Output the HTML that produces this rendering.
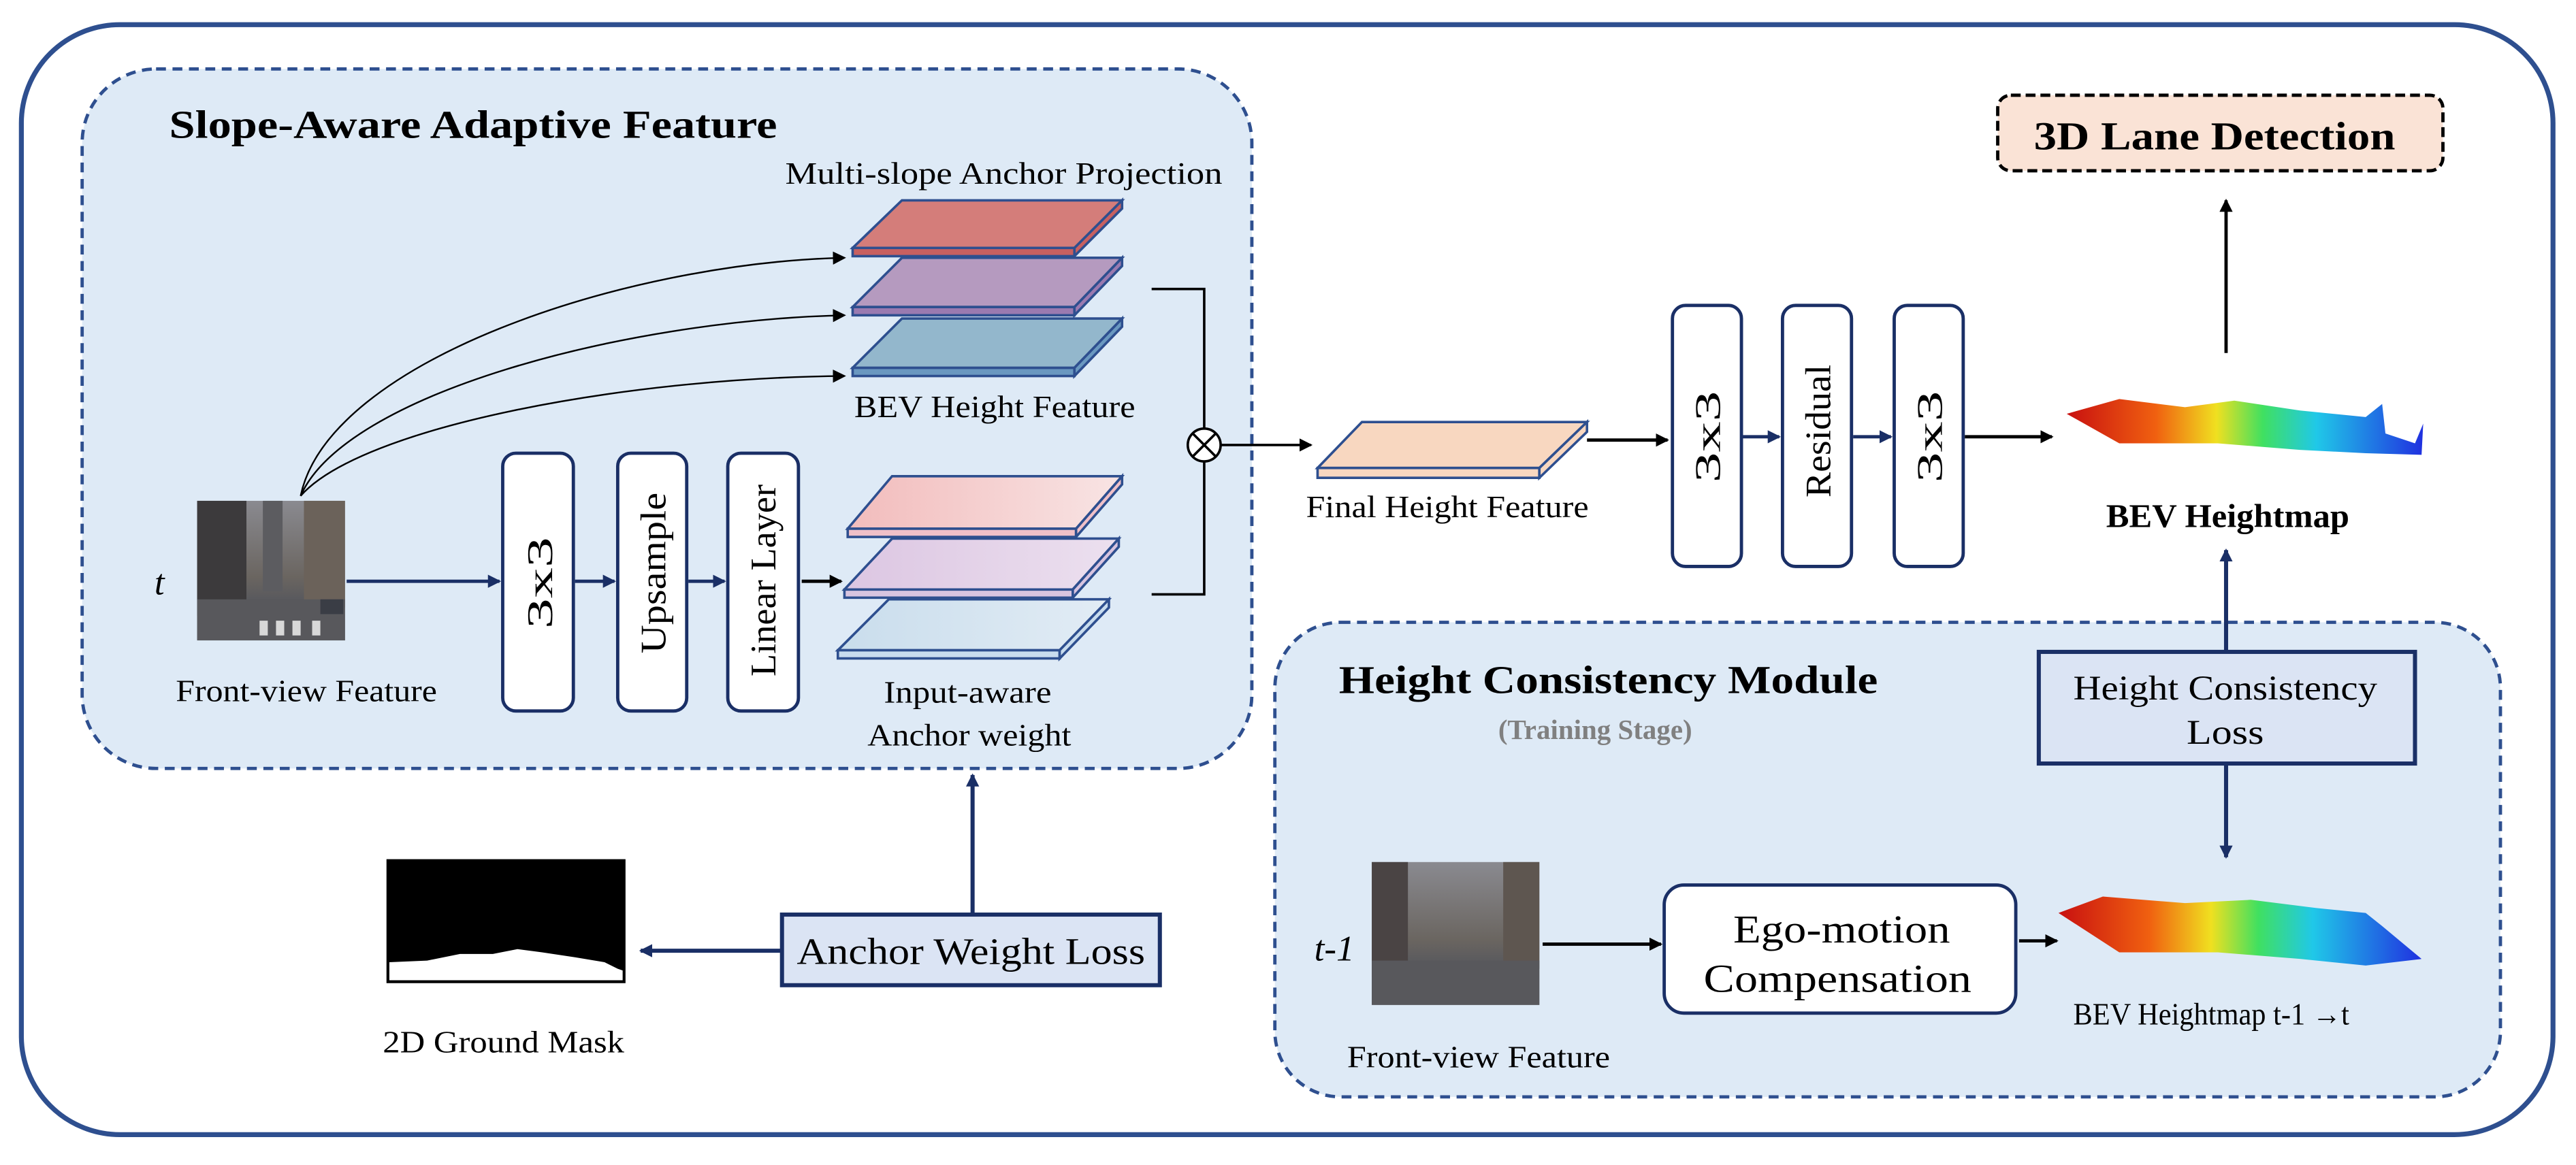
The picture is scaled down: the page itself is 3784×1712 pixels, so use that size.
<!DOCTYPE html>
<html><head><meta charset="utf-8"><style>
html,body{margin:0;padding:0;background:#fff}
svg{display:block}
</style></head><body>
<svg width="3784" height="1712" viewBox="0 0 1568 709.5" preserveAspectRatio="none" xmlns="http://www.w3.org/2000/svg" font-family="Liberation Serif, serif">
<defs>
<marker id="ak" markerWidth="8" markerHeight="8" refX="7" refY="4" orient="auto" markerUnits="userSpaceOnUse"><path d="M0,0 L8,4 L0,8 z" fill="#000"/></marker>
<marker id="an" markerWidth="8" markerHeight="8" refX="7" refY="4" orient="auto" markerUnits="userSpaceOnUse"><path d="M0,0 L8,4 L0,8 z" fill="#1a2f66"/></marker>
<linearGradient id="hm" x1="0" x2="1" y1="0" y2="0">
<stop offset="0" stop-color="#c81010"/><stop offset="0.25" stop-color="#f06010"/><stop offset="0.42" stop-color="#f0e020"/><stop offset="0.55" stop-color="#40e060"/><stop offset="0.7" stop-color="#20c8e8"/><stop offset="1" stop-color="#2030e0"/></linearGradient>
<linearGradient id="g1" x1="0" x2="1"><stop offset="0" stop-color="#f2bcbc"/><stop offset="1" stop-color="#f8e4e4"/></linearGradient>
<linearGradient id="g2" x1="0" x2="1"><stop offset="0" stop-color="#dcc6e2"/><stop offset="1" stop-color="#ece0ef"/></linearGradient>
<linearGradient id="g3" x1="0" x2="1"><stop offset="0" stop-color="#c9ddec"/><stop offset="1" stop-color="#e2ecf5"/></linearGradient>
<linearGradient id="st" x1="0" x2="0" y1="0" y2="1"><stop offset="0" stop-color="#8a8a90"/><stop offset="0.55" stop-color="#6a6560"/><stop offset="0.7" stop-color="#5a5a5e"/><stop offset="1" stop-color="#4e4e52"/></linearGradient>
</defs>

<rect x="13" y="15" width="1541" height="676" rx="60" fill="none" stroke="#2e4f8f" stroke-width="3"/>

<rect x="50" y="42" width="712" height="426" rx="45" fill="#deeaf6" stroke="#2e4f8f" stroke-width="2" stroke-dasharray="6,4"/>
<text x="103" y="84" font-size="24" font-weight="bold" textLength="370" lengthAdjust="spacingAndGlyphs">Slope-Aware Adaptive Feature</text>
<text x="478" y="112" font-size="19" textLength="266" lengthAdjust="spacingAndGlyphs">Multi-slope Anchor Projection</text>

<g stroke="#2e4f8f" stroke-width="1.5">
<polygon points="549,122 683,122 654,151 519,151" fill="#d47d7a"/>
<polygon points="519,151 654,151 654,156 519,156" fill="#c86060"/><polygon points="654,151 683,122 683,127 654,156" fill="#c86060"/>
<polygon points="549,157 683,157 654,187 519,187" fill="#b59abf"/>
<polygon points="519,187 654,187 654,192 519,192" fill="#9a7ab0"/><polygon points="654,187 683,157 683,162 654,192" fill="#9a7ab0"/>
<polygon points="549,194 683,194 654,224 519,224" fill="#93b7cc"/>
<polygon points="519,224 654,224 654,229 519,229" fill="#6a98c0"/><polygon points="654,224 683,194 683,199 654,229" fill="#6a98c0"/>
</g>
<text x="520" y="254" font-size="19" textLength="171" lengthAdjust="spacingAndGlyphs">BEV Height Feature</text>

<g fill="none" stroke="#000" stroke-width="1">
<path d="M183,302 C200,220 380,160 514,157" marker-end="url(#ak)"/>
<path d="M183,302 C210,240 380,195 514,192"  marker-end="url(#ak)"/>
<path d="M183,302 C220,260 380,230 514,229" marker-end="url(#ak)"/>
</g>

<rect x="120" y="305" width="90" height="85" fill="url(#st)"/>
<rect x="120" y="305" width="30" height="70" fill="#3c3a3c"/>
<rect x="185" y="305" width="25" height="65" fill="#6b625a"/>
<rect x="160" y="305" width="12" height="55" fill="#5c5c60"/>
<rect x="120" y="365" width="90" height="25" fill="#58585c"/>
<g fill="#d8d8d8"><rect x="158" y="378" width="5" height="9"/><rect x="168" y="378" width="5" height="9"/><rect x="178" y="378" width="5" height="9"/><rect x="190" y="378" width="5" height="9"/></g>
<rect x="195" y="365" width="14" height="9" fill="#3a3d45"/>
<text x="94" y="362" font-size="22" font-style="italic">t</text>
<text x="107" y="427" font-size="19" textLength="159" lengthAdjust="spacingAndGlyphs">Front-view Feature</text>

<g stroke="#1a2f66" stroke-width="2" fill="none">
<line x1="211" y1="354" x2="304" y2="354" marker-end="url(#an)"/>
<line x1="350" y1="354" x2="374" y2="354" marker-end="url(#an)"/>
<line x1="419" y1="354" x2="441" y2="354" marker-end="url(#an)"/>
</g>
<line x1="488" y1="354" x2="512" y2="354" stroke="#000" stroke-width="2" marker-end="url(#ak)"/>

<g fill="#fff" stroke="#1a2f66" stroke-width="2">
<rect x="306" y="276" width="43" height="157" rx="8"/>
<rect x="376" y="276" width="42" height="157" rx="8"/>
<rect x="443" y="276" width="43" height="157" rx="8"/>
</g>
<g font-size="22">
<text transform="translate(336,383) rotate(-90)" textLength="56" lengthAdjust="spacingAndGlyphs">3x3</text>
<text transform="translate(405,398) rotate(-90)" textLength="98" lengthAdjust="spacingAndGlyphs">Upsample</text>
<text transform="translate(472,412) rotate(-90)" textLength="117" lengthAdjust="spacingAndGlyphs">Linear Layer</text>
</g>

<g stroke="#2e4f8f" stroke-width="1.5">
<polygon points="543,290 683,290 655,322 516,322" fill="url(#g1)"/>
<polygon points="516,322 655,322 655,327 516,327" fill="#f0c0c8"/><polygon points="655,322 683,290 683,295 655,327" fill="#f0c0c8"/>
<polygon points="543,328 681,328 653,359 514,359" fill="url(#g2)"/>
<polygon points="514,359 653,359 653,364 514,364" fill="#d8c4e0"/><polygon points="653,359 681,328 681,333 653,364" fill="#d8c4e0"/>
<polygon points="541,365 675,365 645,396 510,396" fill="url(#g3)"/>
<polygon points="510,396 645,396 645,401 510,401" fill="#c8dcee"/><polygon points="645,396 675,365 675,370 645,401" fill="#c8dcee"/>
</g>
<text x="538" y="428" font-size="19" textLength="102" lengthAdjust="spacingAndGlyphs">Input-aware</text>
<text x="528" y="454" font-size="19" textLength="124" lengthAdjust="spacingAndGlyphs">Anchor weight</text>

<g stroke="#000" stroke-width="1.5" fill="none">
<polyline points="701,176 733,176 733,261"/>
<polyline points="701,362 733,362 733,281"/>
<circle cx="733" cy="271" r="10" fill="#fff"/>
<line x1="726" y1="264" x2="740" y2="278"/><line x1="740" y1="264" x2="726" y2="278"/>
</g>
<line x1="743" y1="271" x2="798" y2="271" stroke="#000" stroke-width="1.5" marker-end="url(#ak)"/>

<g stroke="#2e4f8f" stroke-width="1.5">
<polygon points="829,257 966,257 937,285 802,285" fill="#f8d7c0"/>
<polygon points="802,285 937,285 937,291 802,291" fill="#f8d7c0"/><polygon points="937,285 966,257 966,263 937,291" fill="#f8d7c0"/>
</g>
<text x="795" y="315" font-size="19" textLength="172" lengthAdjust="spacingAndGlyphs">Final Height Feature</text>
<line x1="966" y1="268" x2="1015" y2="268" stroke="#000" stroke-width="2" marker-end="url(#ak)"/>

<g fill="#fff" stroke="#1a2f66" stroke-width="2">
<rect x="1018" y="186" width="42" height="159" rx="8"/>
<rect x="1085" y="186" width="42" height="159" rx="8"/>
<rect x="1153" y="186" width="42" height="159" rx="8"/>
</g>
<g font-size="22">
<text transform="translate(1047,294) rotate(-90)" textLength="56" lengthAdjust="spacingAndGlyphs">3x3</text>
<text transform="translate(1114,303) rotate(-90)" textLength="81" lengthAdjust="spacingAndGlyphs">Residual</text>
<text transform="translate(1182,294) rotate(-90)" textLength="56" lengthAdjust="spacingAndGlyphs">3x3</text>
</g>
<g stroke="#1a2f66" stroke-width="2"><line x1="1061" y1="266" x2="1083" y2="266" marker-end="url(#an)"/><line x1="1128" y1="266" x2="1151" y2="266" marker-end="url(#an)"/></g>
<line x1="1196" y1="266" x2="1249" y2="266" stroke="#000" stroke-width="2" marker-end="url(#ak)"/>

<polygon points="1258,252 1290,243 1330,248 1360,244 1400,250 1440,254 1450,246 1452,264 1470,270 1475,258 1474,277 1440,276 1400,274 1350,270 1290,270" fill="url(#hm)"/>
<text x="1282" y="321" font-size="20" font-weight="bold" textLength="148" lengthAdjust="spacingAndGlyphs">BEV Heightmap</text>

<line x1="1355" y1="215" x2="1355" y2="122" stroke="#000" stroke-width="2" marker-end="url(#ak)"/>
<rect x="1216" y="58" width="271" height="46" rx="8" fill="#fae3d6" stroke="#000" stroke-width="2" stroke-dasharray="6,3"/>
<text x="1238" y="91" font-size="24" font-weight="bold" textLength="220" lengthAdjust="spacingAndGlyphs">3D Lane Detection</text>

<rect x="776" y="379" width="746" height="289" rx="40" fill="#deeaf6" stroke="#2e4f8f" stroke-width="2" stroke-dasharray="6,4"/>
<text x="815" y="422" font-size="24" font-weight="bold" textLength="328" lengthAdjust="spacingAndGlyphs">Height Consistency Module</text>
<text x="912" y="450" font-size="17" font-weight="bold" fill="#808080" textLength="118" lengthAdjust="spacingAndGlyphs">(Training Stage)</text>

<line x1="1355" y1="398" x2="1355" y2="335" stroke="#1a2f66" stroke-width="2.5" marker-end="url(#an)"/>
<line x1="1355" y1="465" x2="1355" y2="522" stroke="#1a2f66" stroke-width="2.5" marker-end="url(#an)"/>
<rect x="1241" y="397" width="229" height="68" fill="#dbe4f4" stroke="#1a2f66" stroke-width="2.5"/>
<text x="1262" y="426" font-size="21" textLength="185" lengthAdjust="spacingAndGlyphs">Height Consistency</text>
<text x="1331" y="453" font-size="21" textLength="47" lengthAdjust="spacingAndGlyphs">Loss</text>

<text x="800" y="585" font-size="22" font-style="italic">t-1</text>
<rect x="835" y="525" width="102" height="87" fill="url(#st)"/>
<rect x="835" y="525" width="22" height="70" fill="#4a4444"/>
<rect x="915" y="525" width="22" height="65" fill="#5e5650"/>
<rect x="835" y="585" width="102" height="27" fill="#58585c"/>
<text x="820" y="650" font-size="19" textLength="160" lengthAdjust="spacingAndGlyphs">Front-view Feature</text>
<line x1="939" y1="575" x2="1011" y2="575" stroke="#000" stroke-width="2" marker-end="url(#ak)"/>
<rect x="1013" y="539" width="214" height="78" rx="12" fill="#fff" stroke="#1a2f66" stroke-width="2"/>
<text x="1055" y="574" font-size="24" textLength="132" lengthAdjust="spacingAndGlyphs">Ego-motion</text>
<text x="1037" y="604" font-size="24" textLength="163" lengthAdjust="spacingAndGlyphs">Compensation</text>
<line x1="1229" y1="573" x2="1252" y2="573" stroke="#000" stroke-width="2" marker-end="url(#ak)"/>
<polygon points="1253,556 1280,546 1330,550 1370,548 1410,553 1440,556 1450,564 1474,584 1440,588 1400,584 1350,580 1290,580" fill="url(#hm)"/>
<text x="1262" y="624" font-size="19" textLength="168" lengthAdjust="spacingAndGlyphs">BEV Heightmap t-1 →t</text>

<line x1="592" y1="557" x2="592" y2="472" stroke="#1a2f66" stroke-width="2.5" marker-end="url(#an)"/>
<line x1="475" y1="579" x2="390" y2="579" stroke="#1a2f66" stroke-width="2.5" marker-end="url(#an)"/>
<rect x="476" y="557" width="230" height="43" fill="#dbe4f4" stroke="#1a2f66" stroke-width="2.5"/>
<text x="485" y="587" font-size="23" textLength="212" lengthAdjust="spacingAndGlyphs">Anchor Weight Loss</text>

<rect x="236" y="524" width="144" height="74" fill="#000"/>
<polygon points="237,597 237,586 260,585 280,581 300,581 315,578 330,580 350,583 368,586 376,590 379,591 379,597" fill="#fff"/>
<rect x="236" y="524" width="144" height="74" fill="none" stroke="#000" stroke-width="1.5"/>
<text x="233" y="641" font-size="19" textLength="147" lengthAdjust="spacingAndGlyphs">2D Ground Mask</text>
</svg>
</body></html>
